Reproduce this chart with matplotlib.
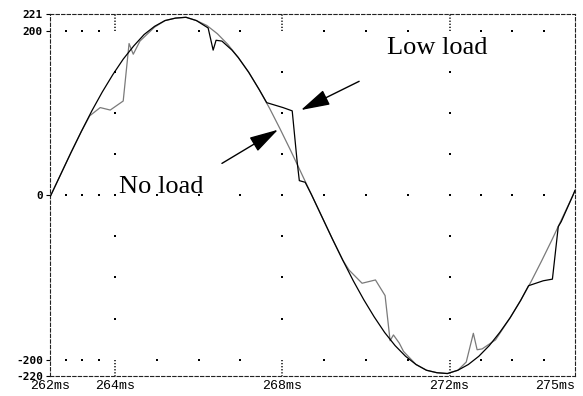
import numpy as np
import matplotlib
matplotlib.use("Agg")
import matplotlib.pyplot as plt
from matplotlib.patches import FancyArrowPatch

# Time axis (ms) and voltage readings of the two traces
no_load_t = [262.45, 262.70, 262.95, 263.20, 263.40, 263.65, 263.89, 264.20, 264.34, 264.44,
             264.60, 264.95, 265.20, 265.45, 265.70, 265.95, 266.20, 266.45, 266.70, 266.95,
             267.20, 267.45, 267.70, 267.95, 268.20, 268.45, 268.70, 268.95, 269.20, 269.45,
             269.60, 269.91, 270.23, 270.46, 270.58, 270.66, 270.80, 270.90, 271.20, 271.45,
             271.70, 271.95, 272.20, 272.40, 272.57, 272.66, 272.78, 273.10, 273.45, 273.70,
             273.95, 274.20, 274.45, 274.70, 274.95, 275.00]
no_load_v = [-2, 25, 52, 78, 97, 107, 104, 115, 185, 172,
             188, 205, 213, 216, 217, 213, 207, 197, 184, 168,
             150, 129, 106, 81, 55, 28, 1, -26, -53, -79,
             -91, -107, -103, -122, -177, -170, -180, -190, -206, -213,
             -216, -217, -213, -203, -168, -188, -187, -176, -149, -128,
             -105, -80, -54, -27, 0, 6]

low_load_t = [262.45, 262.70, 262.95, 263.20, 263.45, 263.70, 263.95, 264.20, 264.45, 264.70,
              264.95, 265.20, 265.45, 265.70, 265.95, 266.23, 266.35, 266.42, 266.56, 266.80,
              266.95, 267.20, 267.45, 267.63, 268.02, 268.24, 268.36, 268.41, 268.55, 268.70,
              268.95, 269.20, 269.45, 269.70, 269.95, 270.20, 270.45, 270.70, 270.95, 271.20,
              271.45, 271.70, 271.95, 272.20, 272.45, 272.70, 272.95, 273.20, 273.45, 273.70,
              273.89, 274.24, 274.46, 274.60, 274.67, 274.95, 275.00]
low_load_v = [-2, 25, 52, 78, 103, 126, 147, 166, 182, 196,
              206, 213, 216, 217, 213, 204, 177, 189, 188, 177,
              168, 150, 129, 113, 107, 103, 40, 18, 16, 1,
              -26, -53, -79, -104, -127, -148, -167, -183, -196, -206,
              -213, -216, -217, -213, -206, -196, -183, -167, -149, -128,
              -110, -104, -102, -38, -32, 0, 6]

# Axis ticks
x_ticks = [262.45, 264, 268, 272, 275]
x_labels = ["262ms", "264ms", "268ms", "272ms", "275ms"]
y_ticks = [221, 200, 0, -200, -220]
y_labels = ["221", "200", "0", "-200", "-220"]
y_grid_major = [200, 0, -200]

fig = plt.figure(figsize=(5.83, 3.96), dpi=100)
ax = fig.add_axes([50 / 583, 20 / 396, 525 / 583, 362 / 396])
ax.set_xlim(x_ticks[0], x_ticks[-1])
ax.set_ylim(y_ticks[-1], y_ticks[0])

# Dashed frame
for side in ["left", "right", "top", "bottom"]:
    ax.spines[side].set_linestyle((0, (3, 2)))
    ax.spines[side].set_linewidth(0.8)
    ax.spines[side].set_color("#222222")

# Dotted graticule: dots at quarter divisions along the major lines
dot_kw = dict(s=2.0, marker="s", color="black", linewidths=0, zorder=1)
xs_minor = []
for a, b in zip(x_ticks[:-1], x_ticks[1:]):
    xs_minor.extend(np.linspace(a, b, 5)[1:-1])
xs_minor = np.array(xs_minor)
for yv in y_grid_major:
    ax.scatter(xs_minor, np.full(len(xs_minor), yv), **dot_kw)
ys_minor = np.arange(-150, 151, 50)
for xv in x_ticks[1:-1]:
    ax.scatter(np.full(len(ys_minor), xv), ys_minor, **dot_kw)
    # dense dotted marks between the outer levels
    ax.plot([xv, xv], [y_grid_major[0], y_ticks[0]], color="black", lw=1.1,
            linestyle=(0, (0.8, 1.2)), zorder=1)
    ax.plot([xv, xv], [y_grid_major[-1], y_ticks[-1]], color="black", lw=1.1,
            linestyle=(0, (0.8, 1.2)), zorder=1)

# Traces
ax.plot(no_load_t, no_load_v, color="#7a7a7a", lw=0.9, zorder=3)
ax.plot(low_load_t, low_load_v, color="black", lw=0.9, zorder=4)

# Ticks and labels
ax.set_xticks(x_ticks)
ax.set_xticklabels(x_labels, family="Liberation Mono", fontsize=9.5)
ax.tick_params(axis="x", length=0, pad=3)
last = ax.get_xticklabels()[-1]
last.set_ha("right")
last.set_x(x_ticks[-1])
ax.set_yticks(y_ticks)
ax.set_yticklabels(y_labels, family="DejaVu Sans Mono", fontsize=8, fontweight="bold")
ax.tick_params(axis="y", length=3, width=0.8, direction="out", pad=2)

# Annotations
txt_kw = dict(family="Liberation Serif", fontsize=19, ha="center", va="center")
ax.text(271.71, 180, "Low load", **txt_kw)
ax.text(265.1, 10, "No load", **txt_kw)

arrow_style = "-|>,head_length=1.8,head_width=0.5"
ax.add_patch(FancyArrowPatch((266.56, 39), (267.90, 80), arrowstyle=arrow_style,
                             mutation_scale=10, color="black", lw=1.0,
                             shrinkA=0, shrinkB=0, zorder=5))
ax.add_patch(FancyArrowPatch((269.84, 139), (268.45, 104), arrowstyle=arrow_style,
                             mutation_scale=10, color="black", lw=1.0,
                             shrinkA=0, shrinkB=0, zorder=5))

fig.savefig("out.png", dpi=100)
